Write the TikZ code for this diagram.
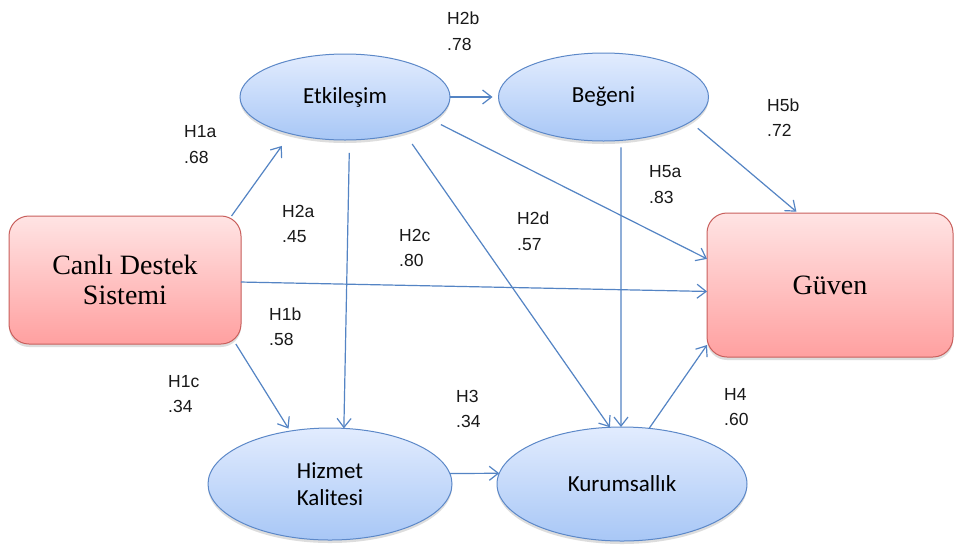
\documentclass[tikz,border=0pt]{standalone}
\usepackage{fontspec}
\setmainfont{Liberation Serif}
\newfontfamily\calibfont{Carlito}
\newfontfamily\labelfont{Liberation Sans}
\usetikzlibrary{arrows.meta,shadows,shapes.geometric}

\definecolor{linkblue}{RGB}{84,132,196}
\definecolor{redtop}{RGB}{255,228,228}
\definecolor{redbot}{RGB}{255,160,160}
\definecolor{redline}{RGB}{200,95,92}
\definecolor{bluetop}{RGB}{226,236,254}
\definecolor{bluebot}{RGB}{168,199,246}
\definecolor{blueline}{RGB}{92,136,200}

\begin{document}
\begin{tikzpicture}[x=1pt,y=-1pt,
  softshadow/.style={drop shadow={shadow xshift=0pt,shadow yshift=-3pt,opacity=.22,fill=black!60}},
  redbox/.style={rectangle,rounded corners=20pt,draw=redline,line width=1pt,
    top color=redtop,bottom color=redbot,inner sep=0pt,outer sep=0pt,
    align=center,font=\fontsize{28}{30}\selectfont,softshadow},
  blueell/.style={ellipse,draw=blueline,line width=1pt,
    top color=bluetop,bottom color=bluebot,inner sep=0pt,outer sep=0pt,
    align=center,font=\calibfont\fontsize{23}{27}\selectfont,softshadow},
  linkarrow/.style={draw=linkblue,line width=1.2pt,
    -{Straight Barb[length=9pt,width=14pt,line width=1.2pt]}},
  coef/.style={anchor=west,align=left,inner sep=0pt,
    font=\labelfont\fontsize{17.5}{25.5}\selectfont,text=black!90}
]
\fill[white] (0,0) rectangle (955,547);
\useasboundingbox (0,0) rectangle (955,547);

% constructs
\node[redbox,minimum width=232pt,minimum height=128pt] (canli) at (125,280) {Canlı Destek\\Sistemi};
\node[redbox,minimum width=246pt,minimum height=144pt] (guven) at (830,285) {Güven};
\node[blueell,minimum width=210pt,minimum height=86pt] (etk) at (345,97) {Etkileşim};
\node[blueell,minimum width=210pt,minimum height=88pt] (beg) at (603.5,97) {Beğeni};
\node[blueell,minimum width=244pt,minimum height=112pt] (hiz) at (330,484) {Hizmet\\Kalitesi};
\node[blueell,minimum width=250pt,minimum height=114pt] (kur) at (622,484) {Kurumsallık};

% structural paths
\draw[linkarrow,shorten >=15pt] (canli.31) -- (etk.214);
\draw[linkarrow] (canli.-1.5) -- (guven.183.3);
\draw[linkarrow,shorten >=3pt] (canli.-30.5) -- (hiz.127);
\draw[linkarrow,shorten >=6pt] (etk.east) -- (beg.west);
\draw[linkarrow,shorten <=13pt] (etk.-84) -- (hiz.76);
\draw[linkarrow,shorten <=9pt] (etk.-15.9) -- (guven.168.1);
\draw[linkarrow,shorten <=14pt] (etk.-31.6) -- (kur.102);
\draw[linkarrow,shorten <=10pt,shorten >=2pt] (beg.-16.3) -- (guven.114.4);
\draw[linkarrow,shorten <=7pt] (beg.-68) -- (kur.91);
\draw[linkarrow] (hiz.5.2) -- (kur.175.8);
\draw[linkarrow] (kur.64.3) -- (guven.206);

% path coefficients
\node[coef] (l2b) at (447,31) {H2b\\.78};
\node[coef] (l1a) at (184,144.5) {H1a\\.68};
\node[coef] (l5b) at (767,117.5) {H5b\\.72};
\node[coef] (l5a) at (649,184.5) {H5a\\.83};
\node[coef] (l2a) at (282,224) {H2a\\.45};
\node[coef] (l2c) at (399,248) {H2c\\.80};
\node[coef] (l2d) at (517,231) {H2d\\.57};
\node[coef] (l1b) at (269,326.5) {H1b\\.58};
\node[coef] (l1c) at (168,394) {H1c\\.34};
\node[coef] (l3) at (456,409) {H3\\.34};
\node[coef] (l4) at (724,407) {H4\\.60};
\end{tikzpicture}
\end{document}
